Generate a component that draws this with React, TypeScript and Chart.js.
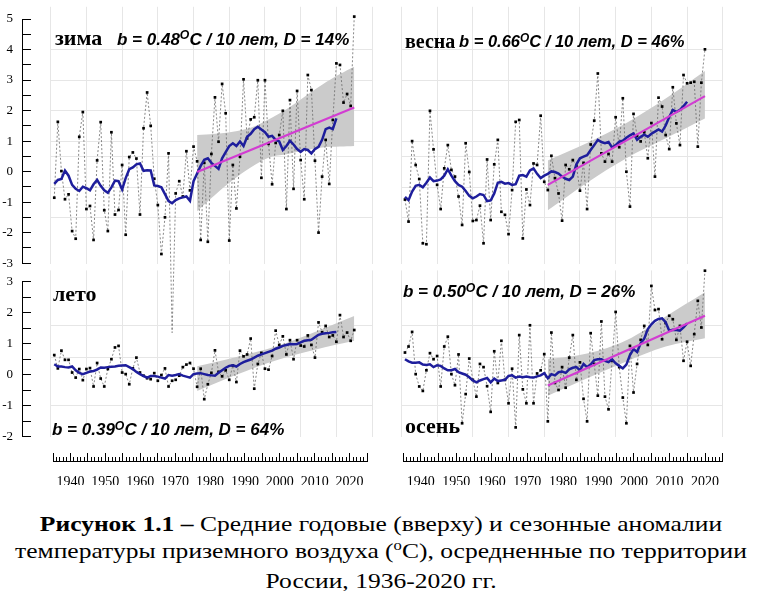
import React, { useEffect, useRef } from 'react';
import { Chart, registerables } from 'chart.js';

Chart.register(...registerables);

// ---------------- DATA ----------------
const FIRST_YEAR = 1936;
const YEARS: number[] = Array.from({ length: 85 }, (_, i) => FIRST_YEAR + i); // 1936..2020

const WINTER_RAW = [
  -0.84, 1.64, 0.03, -0.89, -0.73, -1.93, -2.18, 1.15, 1.96, -1.21,
  -1.11, -2.22, 0.38, 1.63, -1.25, -1.93, 1.30, -1.39, -1.24, 0.23,
  -2.05, 0.49, 0.64, 0.44, -1.39, 1.43, 2.60, 1.51, -0.22, -1.08,
  -2.68, -1.48, 0.61, -5.25, -0.70, -0.30, -0.80, 0.68, -0.60, 0.83,
  0.35, -2.22, 0.30, -2.28, 0.59, 2.44, 0.99, 2.88, 1.92, -2.24,
  0.23, -1.19, 0.50, 3.03, 1.10, 1.72, 1.79, 3.00, -0.19, 3.00,
  0.92, -0.40, 0.95, 1.21, 2.00, -1.21, 2.35, -0.55, 2.65, 0.39,
  -0.89, 3.17, 2.68, 0.37, -1.98, -0.15, 1.05, -0.39, 1.70, 3.55,
  3.50, 2.27, 2.55, 2.16, 5.08,
];
const WINTER_SMOOTH = [
  -0.39, -0.26, -0.23, 0.05, -0.12, -0.42, -0.55, -0.62, -0.48, -0.53,
  -0.60, -0.40, -0.26, -0.45, -0.60, -0.68, -0.50, -0.28, -0.30, -0.57,
  -0.20, 0.09, 0.15, 0.25, 0.28, 0.04, 0.06, 0.05, -0.44, -0.46,
  -0.50, -0.72, -0.95, -1.02, -0.92, -0.86, -0.83, -0.80, -0.94, -0.30,
  -0.05, 0.20, 0.40, 0.45, 0.30, 0.20, 0.10, 0.45, 0.65, 0.85,
  0.94, 0.85, 1.00, 0.85, 1.15, 1.25, 1.40, 1.48, 1.39, 1.30,
  1.15, 1.18, 1.05, 1.00, 0.72, 0.85, 1.02, 0.90, 0.75, 0.66,
  0.75, 0.72, 0.61, 0.75, 0.82, 1.05, 1.40, 1.45, 1.40, 1.75,
];
const SPRING_RAW = [
  -0.90, -1.62, 1.01, 0.23, -0.23, -2.33, -2.36, 2.00, 0.74, -0.42,
  -1.21, 0.12, 0.88, 0.07, -0.15, -0.80, -1.73, 0.94, 0.00, -1.60,
  -1.57, -1.10, -2.33, 0.41, -1.57, 0.25, 1.05, -1.30, -1.40, -2.03,
  -0.59, 1.64, 1.70, -2.17, -0.57, -1.08, 0.28, 0.23, 1.84, -0.32,
  -0.59, 0.53, -0.20, -0.70, -1.59, 0.23, 0.09, 0.39, 0.20, -0.61,
  0.30, -1.21, 0.90, 1.68, 3.22, 0.61, 0.34, 0.59, 0.34, 1.79,
  0.81, 2.41, 0.01, -1.13, 1.90, 1.18, 1.00, 1.30, 0.45, 1.60,
  -0.15, 2.43, 2.14, 1.21, 0.75, 2.77, 1.59, 0.88, 3.17, 2.90,
  2.92, 2.95, 0.83, 2.92, 4.01,
];
const SPRING_SMOOTH = [
  -0.81, -0.92, -0.64, -0.45, -0.42, -0.50, -0.35, -0.18, -0.30, -0.28,
  -0.24, -0.12, 0.09, -0.12, -0.30, -0.42, -0.48, -0.62, -0.78, -0.86,
  -0.80, -0.72, -0.75, -0.95, -0.93, -0.70, -0.35, -0.32, -0.38, -0.36,
  -0.42, -0.40, -0.12, -0.10, -0.15, 0.05, 0.12, -0.06, -0.20, -0.12,
  -0.06, 0.02, 0.00, -0.05, -0.15, -0.22, -0.26, -0.15, 0.25, 0.45,
  0.50, 0.55, 0.72, 0.88, 1.05, 0.98, 0.94, 0.98, 0.80, 0.88,
  0.99, 1.02, 1.12, 1.20, 1.26, 1.05, 1.15, 1.22, 1.15, 1.25,
  1.32, 1.39, 1.32, 1.52, 1.80, 2.03, 1.97, 2.03, 2.15, 2.30,
];
const SUMMER_RAW = [
  0.58, 0.16, 0.72, 0.43, 0.43, 0.03, -0.13, 0.14, -0.21, 0.14,
  0.17, -0.41, 0.33, -0.16, -0.41, 0.14, 0.45, 0.82, 0.87, 0.03,
  -0.02, -0.34, 0.16, 0.50, 0.03, -0.07, -0.15, -0.18, 0.01, -0.23,
  -0.05, 0.16, -0.41, -0.23, -0.20, -0.07, 0.20, 0.28, 0.33, 0.15,
  -0.42, 0.15, -0.81, -0.34, 0.02, 0.73, 0.05, -0.09, 0.10, -0.20,
  0.25, -0.27, 0.72, 0.54, 0.60, 1.10, -0.48, 0.30, 0.65, 0.15,
  0.12, 0.55, 1.35, 0.90, 1.17, 0.60, 1.05, 0.45, 1.05, 0.88,
  0.85, 1.20, 0.90, 0.50, 1.61, 1.30, 1.50, 1.15, 1.20, 1.00,
  1.84, 1.15, 1.29, 1.03, 1.37,
];
const SUMMER_SMOOTH = [
  0.29, 0.22, 0.22, 0.20, 0.19, 0.22, 0.10, 0.02, -0.02, 0.02,
  0.06, 0.08, 0.12, 0.19, 0.18, 0.20, 0.21, 0.22, 0.24, 0.25,
  0.26, 0.20, 0.14, 0.05, -0.02, -0.08, -0.13, -0.08, -0.08, -0.10,
  -0.13, -0.16, -0.05, -0.07, -0.05, -0.02, -0.07, -0.10, -0.13, -0.02,
  0.00, 0.01, -0.02, -0.05, -0.06, -0.07, 0.02, 0.10, 0.18, 0.24,
  0.26, 0.22, 0.30, 0.36, 0.40, 0.44, 0.50, 0.56, 0.60, 0.64,
  0.68, 0.72, 0.78, 0.82, 0.87, 0.90, 0.93, 0.92, 0.93, 0.98,
  1.03, 1.05, 1.06, 1.14, 1.22, 1.25, 1.27, 1.28, 1.30, 1.31,
];
const AUTUMN_RAW = [
  0.66, 0.85, 1.31, -0.02, -0.41, -0.55, 0.10, 0.64, 0.45, 0.55,
  -0.41, 0.85, 1.16, -0.02, -0.37, 0.60, -1.57, -0.65, 0.47, -0.20,
  -0.73, 0.30, 0.20, -0.40, -1.21, 0.70, -0.30, 1.03, -0.20, -0.94,
  0.15, -1.70, 1.21, -0.50, -0.94, 1.52, -0.94, 0.00, 0.10, 0.61,
  -1.51, 1.29, -0.30, -0.52, 0.20, -0.45, 0.50, 1.21, -0.20, 0.35,
  -0.80, -1.51, 1.27, 0.30, -0.70, 1.64, -0.73, -1.13, 0.40, 1.94,
  0.20, -0.76, -1.57, 0.87, -0.60, 0.30, 1.06, 1.50, 0.90, 2.76,
  2.00, 2.03, 1.08, 1.59, 1.82, 1.71, 1.06, 1.50, 0.40, 1.00,
  0.24, 1.24, 2.29, 1.45, 3.24,
];
const AUTUMN_SMOOTH = [
  0.45, 0.38, 0.34, 0.34, 0.35, 0.28, 0.27, 0.29, 0.20, 0.26,
  0.24, 0.16, 0.10, 0.10, 0.14, 0.04, 0.00, -0.04, -0.12, -0.22,
  -0.28, -0.22, -0.18, -0.14, -0.28, -0.16, -0.24, -0.22, -0.20, -0.08,
  -0.06, -0.13, -0.10, -0.12, -0.10, -0.12, -0.13, -0.09, -0.06, 0.01,
  -0.15, -0.02, -0.06, 0.04, 0.06, 0.02, 0.13, 0.18, 0.20, 0.10,
  0.30, 0.20, 0.28, 0.42, 0.45, 0.45, 0.40, 0.36, 0.44, 0.32,
  0.24, 0.16, 0.28, 0.58, 0.77, 0.68, 0.95, 1.10, 1.40, 1.55,
  1.66, 1.72, 1.74, 1.62, 1.35, 1.38, 1.37, 1.35, 1.45, 1.58,
];

// linear trends 1976-2020
const TREND_YEARS = [1976, 2020];
const WINTER_TREND = [0.0, 2.11];
const SPRING_TREND = [-0.42, 2.48];
const AUTUMN_TREND = [-0.38, 1.82];

// confidence bands
const WINTER_BAND_YEARS = [1976, 1981, 1986, 1991, 1996, 2001, 2006, 2011, 2016, 2020];
const WINTER_BAND_HIGH = [1.21, 1.25, 1.32, 1.45, 1.72, 2.05, 2.45, 2.85, 3.2, 3.44];
const WINTER_BAND_LOW = [-1.28, -0.75, -0.26, 0.15, 0.47, 0.58, 0.7, 0.8, 0.83, 0.85];
const BAND_YEARS = [1976, 1987, 1998, 2009, 2020];
const SPRING_BAND_HIGH = [0.38, 0.95, 1.6, 2.4, 3.3];
const SPRING_BAND_LOW = [-1.25, -0.35, 0.45, 1.1, 1.75];
const SUMMER_BAND_HIGH = [0.23, 0.52, 0.85, 1.31, 1.81];
const SUMMER_BAND_LOW = [-0.55, -0.04, 0.41, 0.75, 1.03];
const AUTUMN_BAND_HIGH = [0.45, 0.63, 1.05, 1.8, 2.56];
const AUTUMN_BAND_LOW = [-0.7, -0.15, 0.38, 0.85, 1.11];

// axis / grid values
const X_MIN = 1935;
const X_MAX = 2025;
const GRID_X = [1935, 1945, 1955, 1965, 1975, 1985, 1995, 2005, 2015, 2025];
const GRID_Y_TOP = [-1.5, -0.5, 0.5, 1, 2, 3, 4];
const GRID_Y_BOTTOM = [-1, 0.5, 1.5];
const DECADE_LABELS = [1940, 1950, 1960, 1970, 1980, 1990, 2000, 2010, 2020];

// texts
const SEASONS = ['зима', 'весна', 'лето', 'осень'];
const B_VALUES = ['0.48', '0.66', '0.39', '0.50'];
const D_VALUES = ['14%', '46%', '64%', '26%'];
const CAPTION_BOLD = 'Рисунок 1.1 –';
const CAPTION_1 = ' Средние годовые (вверху) и сезонные аномалии';
const CAPTION_2A = 'температуры приземного воздуха (';
const CAPTION_2B = 'C), осредненные по территории';
const CAPTION_3 = 'России, 1936-2020 гг.';

// ---------------- STYLE ----------------
const BLUE = '#1e1e9c';
const MAGENTA = '#d23cd2';
const BAND = '#cbcbcb';
const GRID = '#e6e6e6';
const SERIF = '"Liberation Serif", "Times New Roman", serif';
const SANS = '"Liberation Sans", Arial, sans-serif';

type Box = { x: number; y: number; w: number; h: number };
type Area = { l: number; r: number; t: number; b: number };

function pad(box: Box, a: Area) {
  return { left: a.l - box.x, right: box.x + box.w - a.r, top: a.t - box.y, bottom: box.y + box.h - a.b };
}

function pts(xs: number[], ys: number[]) {
  return ys.map((y, i) => ({ x: xs[i], y }));
}

function panelConfig(box: Box, area: Area, yMin: number, yMax: number, gridY: number[], raw: number[], smooth: number[], trend: number[] | null, bandYears: number[], bandLow: number[], bandHigh: number[]) {
  const datasets: any[] = [];
  if (trend) {
    datasets.push({ data: pts(TREND_YEARS, trend), borderColor: MAGENTA, borderWidth: 2.2, pointRadius: 0, fill: false, order: 0 });
  }
  datasets.push({ data: pts(YEARS, smooth), borderColor: BLUE, borderWidth: 2.5, pointRadius: 0, fill: false, order: 1 });
  datasets.push({
    data: pts(YEARS, raw), borderColor: '#6a6a6a', borderWidth: 0.8, borderDash: [2, 2],
    pointStyle: 'rect', pointRadius: 1.9, pointBackgroundColor: '#000', pointBorderColor: '#000', pointBorderWidth: 0,
    fill: false, order: 2, clip: false,
  });
  datasets.push({ data: pts(bandYears, bandLow), borderColor: 'rgba(0,0,0,0)', borderWidth: 0, pointRadius: 0, fill: false, tension: 0.35, order: 4 });
  datasets.push({ data: pts(bandYears, bandHigh), borderColor: 'rgba(0,0,0,0)', borderWidth: 0, pointRadius: 0, backgroundColor: BAND, fill: '-1', tension: 0.35, order: 3 });
  return {
    type: 'line',
    data: { datasets },
    options: {
      animation: false, responsive: false, maintainAspectRatio: false, devicePixelRatio: 1,
      layout: { padding: pad(box, area) },
      plugins: { legend: { display: false }, tooltip: { enabled: false } },
      scales: {
        x: {
          type: 'linear', min: X_MIN, max: X_MAX,
          ticks: { display: false }, grid: { color: GRID, drawTicks: false }, border: { display: false },
          afterBuildTicks: (s: any) => { s.ticks = GRID_X.map((v) => ({ value: v })); },
        },
        y: {
          type: 'linear', min: yMin, max: yMax,
          ticks: { display: false }, grid: { color: GRID, drawTicks: false }, border: { display: false },
          afterBuildTicks: (s: any) => { s.ticks = gridY.map((v) => ({ value: v })); },
        },
      },
    },
  };
}

function yAxisConfig(box: Box, area: Area, yMin: number, yMax: number) {
  return {
    type: 'line',
    data: { datasets: [] },
    options: {
      animation: false, responsive: false, maintainAspectRatio: false, devicePixelRatio: 1,
      layout: { padding: { left: 0, right: box.x + box.w - area.r, top: area.t - box.y, bottom: box.y + box.h - area.b } },
      plugins: { legend: { display: false }, tooltip: { enabled: false } },
      scales: {
        x: { type: 'linear', display: false, min: 0, max: 1 },
        y: {
          type: 'linear', min: yMin, max: yMax,
          ticks: {
            stepSize: 0.5, autoSkip: false, padding: 9, color: '#000',
            font: { family: SERIF, size: 13 },
            callback: (v: any) => (Number.isInteger(v) ? String(v) : ''),
          },
          grid: { color: '#000', drawTicks: false, drawOnChartArea: true, lineWidth: 1 },
          border: { display: true, color: '#000', width: 1 },
          afterFit: (s: any) => { s.width = area.l - box.x; },
        },
      },
    },
  };
}

function rulerConfig(box: Box, area: Area) {
  return {
    type: 'line',
    data: { datasets: [] },
    options: {
      animation: false, responsive: false, maintainAspectRatio: false, devicePixelRatio: 1,
      layout: { padding: { left: area.l - box.x, right: box.x + box.w - area.r, top: 8, bottom: 5 } },
      plugins: { legend: { display: false }, tooltip: { enabled: false } },
      scales: {
        xTop: {
          type: 'linear', position: 'top', min: X_MIN, max: X_MAX,
          ticks: { display: false, stepSize: 5, autoSkip: false },
          grid: { color: '#000', drawOnChartArea: false, drawTicks: true, tickLength: 4, lineWidth: 1 },
          border: { display: false },
        },
        x: {
          type: 'linear', position: 'bottom', min: X_MIN, max: X_MAX,
          ticks: {
            stepSize: 1, autoSkip: false, maxRotation: 0, padding: 13, color: '#000',
            font: { family: SERIF, size: 14 },
            callback: (v: any) => (DECADE_LABELS.includes(v) ? String(v) : ''),
          },
          grid: { color: '#000', drawOnChartArea: true, drawTicks: false, lineWidth: 1 },
          border: { display: true, color: '#000', width: 1 },
          afterFit: (s: any) => { s.height = 24; },
        },
        y: { type: 'linear', display: false, min: 0, max: 1 },
      },
    },
  };
}

function ChartCanvas({ box, z, make }: { box: Box; z: number; make: () => any }) {
  const ref = useRef<HTMLCanvasElement>(null);
  useEffect(() => {
    const chart = new Chart(ref.current as HTMLCanvasElement, make());
    return () => chart.destroy();
  }, []);
  return (
    <canvas
      ref={ref}
      width={box.w}
      height={box.h}
      style={{ position: 'absolute', left: box.x, top: box.y, width: box.w, height: box.h, zIndex: z }}
    />
  );
}

function Formula({ x, y, size, idx }: { x: number; y: number; size: number; idx: number }) {
  return (
    <div style={{ position: 'absolute', left: x, top: y, fontFamily: SANS, fontStyle: 'italic', fontWeight: 'bold', fontSize: size, lineHeight: 1, whiteSpace: 'nowrap', color: '#000', zIndex: 5 }}>
      b = {B_VALUES[idx]}
      <span style={{ fontSize: '0.72em', position: 'relative', top: '-0.45em' }}>O</span>
      C / 10 лет, D = {D_VALUES[idx]}
    </div>
  );
}

function Season({ x, y, idx, size = 22 }: { x: number; y: number; idx: number; size?: number }) {
  return (
    <div style={{ position: 'absolute', left: x, top: y, fontFamily: SERIF, fontWeight: 'bold', fontSize: size, lineHeight: 1, whiteSpace: 'nowrap', color: '#000', zIndex: 5 }}>
      {SEASONS[idx]}
    </div>
  );
}

// geometry
const L_AREA_X = { l: 50.7, r: 372.1 };
const R_AREA_X = { l: 401.4, r: 722.8 };
const TOP_Y = { t: 6.8, b: 263.8 };
const BOT_Y = { t: 270.4, b: 436.9 };

const WINTER_BOX: Box = { x: 40, y: 0, w: 340, h: 345 };
const SPRING_BOX: Box = { x: 390, y: 0, w: 350, h: 280 };
const SUMMER_BOX: Box = { x: 40, y: 262, w: 340, h: 190 };
const AUTUMN_BOX: Box = { x: 390, y: 262, w: 350, h: 190 };
const YTOP_BOX: Box = { x: 0, y: 0, w: 40, h: 280 };
const YBOT_BOX: Box = { x: 0, y: 265, w: 40, h: 190 };
const RULER_L_BOX: Box = { x: 40, y: 445, w: 340, h: 45 };
const RULER_R_BOX: Box = { x: 390, y: 445, w: 350, h: 45 };

const captionLine: React.CSSProperties = { transform: 'scaleX(1.16)', transformOrigin: '381px 50%' };

export default function App() {
  return (
    <div style={{ position: 'absolute', left: 0, top: 0, width: 762, height: 591, background: '#fff', overflow: 'hidden' }}>
      <ChartCanvas box={SUMMER_BOX} z={1} make={() => panelConfig(SUMMER_BOX, { ...L_AREA_X, ...BOT_Y }, -2, 3.25, GRID_Y_BOTTOM, SUMMER_RAW, SUMMER_SMOOTH, null, BAND_YEARS, SUMMER_BAND_LOW, SUMMER_BAND_HIGH)} />
      <ChartCanvas box={AUTUMN_BOX} z={1} make={() => panelConfig(AUTUMN_BOX, { ...R_AREA_X, ...BOT_Y }, -2, 3.25, GRID_Y_BOTTOM, AUTUMN_RAW, AUTUMN_SMOOTH, AUTUMN_TREND, BAND_YEARS, AUTUMN_BAND_LOW, AUTUMN_BAND_HIGH)} />
      <ChartCanvas box={WINTER_BOX} z={2} make={() => panelConfig(WINTER_BOX, { ...L_AREA_X, ...TOP_Y }, -3, 5.4, GRID_Y_TOP, WINTER_RAW, WINTER_SMOOTH, WINTER_TREND, WINTER_BAND_YEARS, WINTER_BAND_LOW, WINTER_BAND_HIGH)} />
      <ChartCanvas box={SPRING_BOX} z={2} make={() => panelConfig(SPRING_BOX, { ...R_AREA_X, ...TOP_Y }, -3, 5.4, GRID_Y_TOP, SPRING_RAW, SPRING_SMOOTH, SPRING_TREND, BAND_YEARS, SPRING_BAND_LOW, SPRING_BAND_HIGH)} />
      <ChartCanvas box={YTOP_BOX} z={3} make={() => yAxisConfig(YTOP_BOX, { l: 22, r: 31, t: 19, b: 263.8 }, -3, 5)} />
      <ChartCanvas box={YBOT_BOX} z={3} make={() => yAxisConfig(YBOT_BOX, { l: 22, r: 31, t: 278.3, b: 436.9 }, -2, 3)} />
      <ChartCanvas box={RULER_L_BOX} z={3} make={() => rulerConfig(RULER_L_BOX, { ...L_AREA_X, t: 0, b: 0 })} />
      <ChartCanvas box={RULER_R_BOX} z={3} make={() => rulerConfig(RULER_R_BOX, { ...R_AREA_X, t: 0, b: 0 })} />

      <Season x={55} y={26.6} idx={0} />
      <Formula x={117} y={30.6} size={17} idx={0} />
      <Season x={405} y={30.5} idx={1} size={20} />
      <Formula x={459} y={33.2} size={16.5} idx={1} />
      <Season x={53} y={283.3} idx={2} />
      <Formula x={52} y={421.3} size={17} idx={2} />
      <Formula x={403} y={283.3} size={17} idx={3} />
      <Season x={405} y={414.6} idx={3} />

      <div style={{ position: 'absolute', left: 0, top: 510, width: 762, textAlign: 'center', fontFamily: SERIF, fontSize: 22, lineHeight: '27px', color: '#000', whiteSpace: 'nowrap' }}>
        <div style={captionLine}><b>{CAPTION_BOLD}</b>{CAPTION_1}</div>
        <div style={captionLine}>{CAPTION_2A}<span style={{ fontSize: '0.65em', position: 'relative', top: '-0.55em' }}>o</span>{CAPTION_2B}</div>
        <div style={captionLine}>{CAPTION_3}</div>
      </div>
    </div>
  );
}
